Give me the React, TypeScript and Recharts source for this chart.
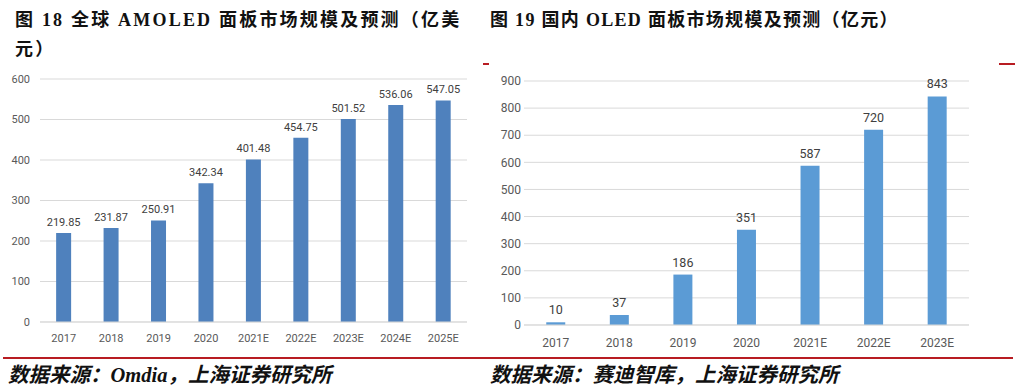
import { BarChart, Bar, XAxis, YAxis, CartesianGrid, LabelList } from "recharts";

const globalYears = ["2017", "2018", "2019", "2020", "2021E", "2022E", "2023E", "2024E", "2025E"];
const globalValues = [219.85, 231.87, 250.91, 342.34, 401.48, 454.75, 501.52, 536.06, 547.05];
const globalTicks = [0, 100, 200, 300, 400, 500, 600];

const domesticYears = ["2017", "2018", "2019", "2020", "2021E", "2022E", "2023E"];
const domesticValues = [10, 37, 186, 351, 587, 720, 843];
const domesticTicks = [0, 100, 200, 300, 400, 500, 600, 700, 800, 900];

const globalData = globalYears.map((year, i) => ({ year, value: globalValues[i] }));
const domesticData = domesticYears.map((year, i) => ({ year, value: domesticValues[i] }));

const axisFont = "Roboto, 'Liberation Sans', sans-serif";
const titleFont = "'Liberation Serif', 'DejaVu Serif', 'Noto Sans CJK SC', serif";
const red = "#b81c22";

export default function App() {
  return (
    <div style={{ position: "absolute", left: 0, top: 0, width: 1016, height: 391, background: "#fff", overflow: "hidden" }}>
      {/* titles */}
      <div style={{ position: "absolute", left: 15, top: 6, width: 460, fontFamily: titleFont, fontWeight: "bold", fontSize: 18, lineHeight: "29px", letterSpacing: 2.2, color: "#111" }}>
        图 18 全球 AMOLED 面板市场规模及预测（亿美元）
      </div>
      <div style={{ position: "absolute", left: 490, top: 6, fontFamily: titleFont, fontWeight: "bold", fontSize: 18, lineHeight: "29px", letterSpacing: 1.3, color: "#111", whiteSpace: "nowrap" }}>
        图 19 国内 OLED 面板市场规模及预测（亿元）
      </div>

      {/* small red marks */}
      <div style={{ position: "absolute", left: 483, top: 63, width: 6, height: 1.5, background: red }} />
      <div style={{ position: "absolute", left: 999, top: 63, width: 16, height: 1.5, background: red }} />

      {/* left chart */}
      <div style={{ position: "absolute", left: 0, top: 60 }}>
        <BarChart width={480} height={290} data={globalData} margin={{ top: 19, right: 13, left: 10, bottom: 8 }} barCategoryGap="34%">
          <CartesianGrid vertical={false} stroke="#d9d9d9" />
          <XAxis dataKey="year" axisLine={{ stroke: "#d9d9d9" }} tickLine={false} tickSize={0} tickMargin={12} height={20}
            tick={{ fontSize: 11, fill: "#595959", fontFamily: axisFont }} interval={0} />
          <YAxis width={30} domain={[0, 600]} ticks={globalTicks} axisLine={false} tickLine={false} tickSize={0} tickMargin={10}
            tick={{ fontSize: 11, fill: "#595959", fontFamily: axisFont }} />
          <Bar dataKey="value" fill="#4f81bd" isAnimationActive={false}>
            <LabelList dataKey="value" position="top" offset={7} formatter={(v: number) => v.toFixed(2)}
              style={{ fontSize: 11, fill: "#404040", fontFamily: axisFont }} />
          </Bar>
        </BarChart>
      </div>

      {/* right chart */}
      <div style={{ position: "absolute", left: 480, top: 60 }}>
        <BarChart width={536} height={300} data={domesticData} margin={{ top: 21, right: 47, left: 4, bottom: 5 }} barCategoryGap="35%">
          <CartesianGrid vertical={false} stroke="#d9d9d9" />
          <XAxis dataKey="year" axisLine={{ stroke: "#d9d9d9" }} tickLine={false} tickSize={0} tickMargin={13} height={30}
            tick={{ fontSize: 12, fill: "#595959", fontFamily: axisFont }} interval={0} />
          <YAxis width={40} domain={[0, 900]} ticks={domesticTicks} axisLine={false} tickLine={false} tickSize={0} tickMargin={3}
            tick={{ fontSize: 12, fill: "#595959", fontFamily: axisFont }} />
          <Bar dataKey="value" fill="#5b9bd5" isAnimationActive={false}>
            <LabelList dataKey="value" position="top" offset={8}
              style={{ fontSize: 12.5, fill: "#404040", fontFamily: axisFont }} />
          </Bar>
        </BarChart>
      </div>

      {/* footer line */}
      <div style={{ position: "absolute", left: 3, top: 357, width: 1010, height: 1.5, background: red }} />

      {/* sources */}
      <div style={{ position: "absolute", left: 8, top: 361, fontFamily: titleFont, fontStyle: "italic", fontWeight: "bold", fontSize: 20.5, lineHeight: "28px", color: "#111", whiteSpace: "nowrap" }}>
        数据来源：Omdia，上海证券研究所
      </div>
      <div style={{ position: "absolute", left: 490, top: 361, fontFamily: titleFont, fontStyle: "italic", fontWeight: "bold", fontSize: 20.5, lineHeight: "28px", color: "#111", whiteSpace: "nowrap" }}>
        数据来源：赛迪智库，上海证券研究所
      </div>
    </div>
  );
}
